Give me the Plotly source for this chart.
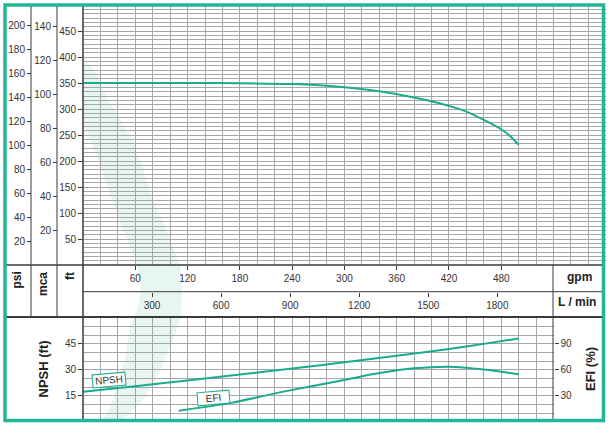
import plotly.graph_objects as go

# ---------------- data ----------------
gpm_head = [0, 60, 120, 180, 240, 300, 340, 380, 420, 440, 460, 480, 490, 500]
head_ft = [350, 350, 350, 349.5, 348, 342, 334, 322, 306, 295, 279, 261, 248, 231]

gpm_npsh = [0, 60, 120, 180, 240, 300, 360, 420, 460, 500]
npsh_ft = [17.3, 20.5, 23.8, 27.2, 30.7, 34.3, 38.0, 42.0, 44.9, 48.0]

gpm_efi = [110, 170, 230, 300, 340, 380, 420, 460, 500]
efi_pct = [12.7, 21.7, 34.7, 48.2, 56.1, 61.6, 63.5, 60.3, 54.7]

gpm_ticks = [60, 120, 180, 240, 300, 360, 420, 480]
lmin_ticks = [300, 600, 900, 1200, 1500, 1800]
ft_ticks = [50, 100, 150, 200, 250, 300, 350, 400, 450]
psi_ticks = [20, 40, 60, 80, 100, 120, 140, 160, 180, 200]
mca_ticks = [20, 40, 60, 80, 100, 120, 140]
npsh_ticks = [15, 30, 45]
efi_ticks = [30, 60, 90]

# ---------------- helpers ----------------
W, H = 610, 426
def X(px):
    return px / W
def Y(py):
    return 1 - py / H

TEAL = "#1aaa8c"
BORDER = "#22b596"
GRID = "#a6a6a6"
DARK = "#3a3a3a"
TXT = "#333333"
FONT = "Liberation Sans, Arial, sans-serif"

x_left = 83
scale = 0.8714  # px per gpm
up_dom_x = [X(x_left), X(x_left + 600 * scale)]
lo_max = 540
lo_dom_x = [X(x_left), X(x_left + lo_max * scale)]
up_dom_y = [Y(265), Y(5)]
lo_dom_y = [Y(421.7), Y(317.7)]

fig = go.Figure()

fig.add_trace(go.Scatter(x=gpm_head, y=head_ft, mode="lines", xaxis="x", yaxis="y",
                         line=dict(color=TEAL, width=2, shape="spline", smoothing=0.5),
                         hoverinfo="skip", showlegend=False))
# invisible traces to activate overlay axes
fig.add_trace(go.Scatter(x=[0], y=[0], xaxis="x", yaxis="y3", mode="markers",
                         marker=dict(opacity=0), hoverinfo="skip", showlegend=False))
fig.add_trace(go.Scatter(x=[0], y=[0], xaxis="x", yaxis="y4", mode="markers",
                         marker=dict(opacity=0), hoverinfo="skip", showlegend=False))
fig.add_trace(go.Scatter(x=[0], y=[0], xaxis="x3", yaxis="y", mode="markers",
                         marker=dict(opacity=0), hoverinfo="skip", showlegend=False))

fig.add_trace(go.Scatter(x=gpm_npsh, y=npsh_ft, mode="lines", xaxis="x2", yaxis="y2",
                         line=dict(color=TEAL, width=2, shape="spline", smoothing=0.6),
                         hoverinfo="skip", showlegend=False))
fig.add_trace(go.Scatter(x=gpm_efi, y=efi_pct, mode="lines", xaxis="x2", yaxis="y5",
                         line=dict(color=TEAL, width=2, shape="spline", smoothing=0.8),
                         hoverinfo="skip", showlegend=False))

tickfont = dict(family=FONT, size=10, color=TXT)

fig.update_layout(
    width=W, height=H, autosize=False,
    margin=dict(l=0, r=0, t=0, b=0),
    paper_bgcolor="white", plot_bgcolor="rgba(0,0,0,0)",
    font=dict(family=FONT, color=TXT),
    xaxis=dict(domain=up_dom_x, range=[0, 600], anchor="y", tickvals=gpm_ticks,
               ticks="outside", ticklen=4, tickcolor=DARK, tickfont=tickfont,
               showgrid=True, gridcolor=GRID, gridwidth=1, zeroline=False, showline=False,
               minor=dict(dtick=20, tick0=0, showgrid=True, gridcolor=GRID, gridwidth=1)),
    yaxis=dict(domain=up_dom_y, range=[0, 500], anchor="x", tickvals=ft_ticks,
               ticks="outside", ticklen=4, tickcolor=DARK, tickfont=tickfont,
               showgrid=False, zeroline=False, showline=False,
               minor=dict(dtick=500 / 60, tick0=0, showgrid=True, gridcolor=GRID, gridwidth=1)),
    yaxis3=dict(overlaying="y", anchor="free", position=X(31), side="left",
                range=[0, 500 / 2.30666], tickvals=psi_ticks, ticks="outside", ticklen=4,
                tickcolor=DARK, tickfont=tickfont, showgrid=False, zeroline=False, showline=False),
    yaxis4=dict(overlaying="y", anchor="free", position=X(57), side="left",
                range=[0, 500 / 3.28084], tickvals=mca_ticks, ticks="outside", ticklen=4,
                tickcolor=DARK, tickfont=tickfont, showgrid=False, zeroline=False, showline=False),
    xaxis3=dict(overlaying="x", anchor="free", position=Y(291.7), side="bottom",
                range=[0, 600 * 3.78541], tickvals=lmin_ticks, ticks="outside", ticklen=4,
                tickcolor=DARK, tickfont=tickfont, showgrid=False, zeroline=False, showline=False),
    xaxis2=dict(domain=lo_dom_x, range=[0, lo_max], anchor="y2", showticklabels=False,
                tickvals=[], showgrid=False, zeroline=False, showline=False,
                minor=dict(dtick=20, tick0=0, showgrid=True, gridcolor=GRID, gridwidth=1)),
    yaxis2=dict(domain=lo_dom_y, range=[0, 60], anchor="x2", tickvals=npsh_ticks,
                ticks="outside", ticklen=4, tickcolor=DARK, tickfont=tickfont,
                showgrid=True, gridcolor=GRID, zeroline=False, showline=False,
                minor=dict(dtick=5, tick0=0, showgrid=True, gridcolor=GRID, gridwidth=1)),
    yaxis5=dict(overlaying="y2", anchor="x2", side="right", range=[0, 120],
                tickvals=efi_ticks, ticks="outside", ticklen=4, tickcolor=DARK,
                tickfont=tickfont, showgrid=False, zeroline=False, showline=False),
)

# ---------------- shaded band ----------------
right_edge = [(83, 58), (95, 72), (108, 100), (130, 135), (142, 165), (153, 200), (168, 235),
              (180, 263), (182, 290), (181, 317), (173, 340), (165, 360), (155, 380),
              (143, 400), (121, 421)]
left_edge = [(103, 421), (113, 400), (118, 380), (125, 360), (128, 340), (131, 322),
             (138, 308), (141, 290), (137, 263), (125, 235), (112, 200), (100, 165),
             (87, 130), (83, 120)]
pts = right_edge + left_edge
path = "M " + " L ".join(f"{X(px):.5f},{Y(py):.5f}" for px, py in pts) + " Z"
shapes = [dict(type="path", xref="paper", yref="paper", path=path,
               fillcolor="rgba(200,234,221,0.42)", line=dict(width=0), layer="below")]

def hline(y, x0, x1, w=1, c=DARK):
    shapes.append(dict(type="line", xref="paper", yref="paper", x0=X(x0), x1=X(x1),
                       y0=Y(y), y1=Y(y), line=dict(color=c, width=w)))

def vline(x, y0, y1, w=1, c=DARK):
    shapes.append(dict(type="line", xref="paper", yref="paper", x0=X(x), x1=X(x),
                       y0=Y(y0), y1=Y(y1), line=dict(color=c, width=w)))

vline(31, 5, 317)
vline(57, 5, 317)
vline(83, 5, 421, w=1.5)
vline(553, 265, 421)
hline(265, 5, 604, w=1.5)
hline(291.7, 83, 604)
hline(317, 5, 604, w=2)
shapes.append(dict(type="rect", xref="paper", yref="paper", x0=X(5), x1=X(603.5),
                   y0=Y(420.5), y1=Y(5), line=dict(color=BORDER, width=3.5)))
fig.update_layout(shapes=shapes)

# ---------------- labels ----------------
bold = dict(family=FONT, size=12, color="#222222")
ann = []
def lab(text, x, y, angle=0, xa="center", ya="middle", font=bold):
    ann.append(dict(text=text, xref="paper", yref="paper", x=X(x), y=Y(y), showarrow=False,
                    textangle=angle, xanchor=xa, yanchor=ya, font=font))

lab("<b>psi</b>", 16, 270, -90, ya="top")
lab("<b>mca</b>", 43, 270, -90, ya="top")
lab("<b>ft</b>", 70, 270, -90, ya="top")
lab("<b>gpm</b>", 579, 277)
lab("<b>L / min</b>", 577, 302)
lab("<b>NPSH (ft)</b>", 43, 369.5, -90, font=dict(family=FONT, size=13, color="#222222"))
lab("<b>EFI (%)</b>", 590, 369, -90, font=dict(family=FONT, size=13, color="#222222"))

for text, cx, cy, w in [("NPSH", 109.3, 380, 30), ("EFI", 213.3, 398, 29)]:
    ann.append(dict(text=text, xref="paper", yref="paper", x=X(cx), y=Y(cy), showarrow=False,
                    textangle=-5, xanchor="center", yanchor="middle", width=w, height=10,
                    bgcolor="white", bordercolor=TEAL, borderwidth=1, borderpad=1,
                    font=dict(family=FONT, size=10, color=TXT)))
fig.update_layout(annotations=ann)

fig.write_html("out.html", config={"displayModeBar": False},
               post_script="document.body.style.margin='0';document.body.style.overflow='hidden';")
